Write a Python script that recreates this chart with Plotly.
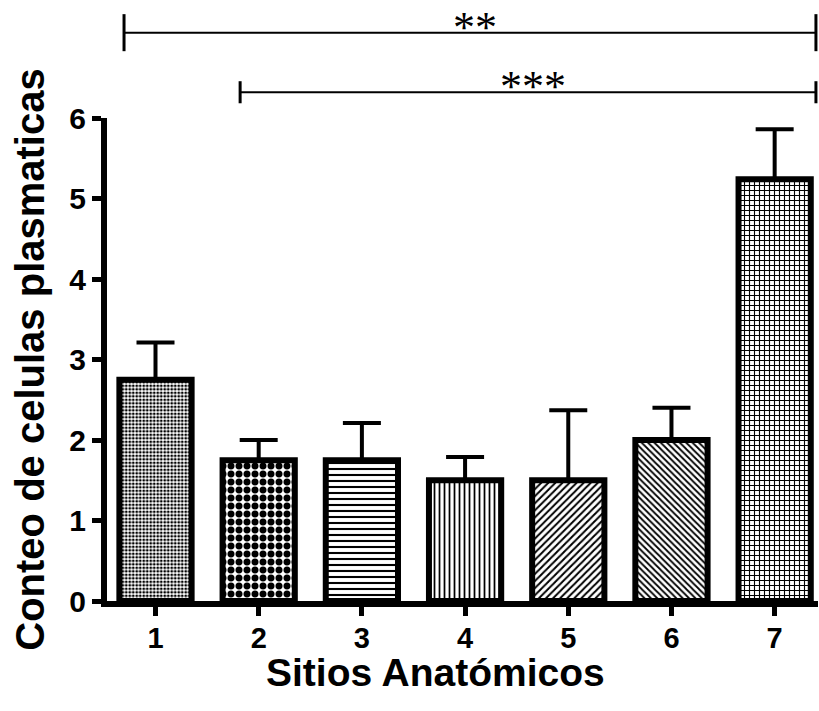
import plotly.graph_objects as go

sites = [1, 2, 3, 4, 5, 6, 7]
tick_labels = ["1", "2", "3", "4", "5", "6", "7"]
means = [2.75, 1.75, 1.75, 1.5, 1.5, 2.0, 5.24]
errors = [0.46, 0.25, 0.46, 0.29, 0.87, 0.40, 0.62]
pattern_shapes = [".", ".", "-", "|", "/", "\\", "+"]
pattern_sizes = [3.5, 8, 6, 5, 5, 4.5, 5]
pattern_solidity = [0.5, 0.6, 0.35, 0.35, 0.4, 0.4, 0.4]

# significance brackets (data units): x start, x end, y level, label
brackets = [
    (0.695, 7.40, 7.06, "**"),
    (1.82, 7.40, 6.32, "***"),
]
bracket_end_half = [0.23, 0.137]

x_title = "<b>Sitios Anatómicos</b>"
y_title = "<b>Conteo de celulas plasmaticas</b>"

YMAX = 6
XMIN, XMAX = 0.53, 7.42

fig = go.Figure()
fig.add_trace(go.Bar(
    x=sites, y=means, width=0.7,
    marker=dict(color="white", line=dict(color="black", width=6),
                pattern=dict(shape=pattern_shapes, size=pattern_sizes,
                             solidity=pattern_solidity, fgcolor="black",
                             bgcolor="white", fillmode="replace")),
    error_y=dict(type="data", array=errors, arrayminus=[0]*7, symmetric=False,
                 color="black", thickness=4, width=19),
    showlegend=False,
))

shapes = []
annotations = []
for (x0, x1, yl, lab), h in zip(brackets, bracket_end_half):
    yp = yl / YMAX
    hp = h / YMAX
    shapes.append(dict(type="line", xref="x", yref="paper", x0=x0, x1=x1, y0=yp, y1=yp,
                       line=dict(color="black", width=2)))
    for xe in (x0, x1):
        shapes.append(dict(type="line", xref="x", yref="paper", x0=xe, x1=xe,
                           y0=yp - hp, y1=yp + hp, line=dict(color="black", width=3)))
    annotations.append(dict(text=lab, xref="x", yref="paper", x=(x0 + x1) / 2 + 0.05,
                            y=yp + 0.011, yanchor="middle", xanchor="center", showarrow=False,
                            font=dict(family="Liberation Sans, Arial", size=1, color="white")
                            if False else
                            dict(family="Liberation Serif", size=44, color="black")))

# x-axis title placed as annotation (slightly left of plot centre, as in the original)
annotations.append(dict(text=x_title, xref="paper", yref="paper", x=0.462, y=-0.149,
                        xanchor="center", yanchor="middle", showarrow=False,
                        font=dict(family="Liberation Sans, Arial", size=39, color="black")))

fig.update_layout(
    width=819, height=711,
    margin=dict(l=107, r=1, t=118, b=110, autoexpand=False),
    plot_bgcolor="white", paper_bgcolor="white",
    font=dict(family="Liberation Sans, Arial", color="black"),
    shapes=shapes, annotations=annotations,
    bargap=0.3,
)
fig.update_xaxes(
    range=[XMIN, XMAX], tickvals=sites, ticktext=tick_labels,
    showline=True, linecolor="black", linewidth=6,
    ticks="outside", ticklen=9, tickwidth=5, tickcolor="black",
    ticklabelstandoff=-3,
    tickfont=dict(size=29, family="Liberation Sans, Arial", weight="bold"),
    showgrid=False, zeroline=False,
)
fig.update_yaxes(
    range=[0, YMAX], tickvals=[0, 1, 2, 3, 4, 5, 6],
    showline=True, linecolor="black", linewidth=6,
    ticks="outside", ticklen=9, tickwidth=5, tickcolor="black",
    tickfont=dict(size=30, family="Liberation Sans, Arial", weight="bold"),
    title=dict(text=y_title, font=dict(size=40), standoff=14),
    showgrid=False, zeroline=False,
)
fig.write_html("out.html", config={"displayModeBar": False},
               post_script="document.body.style.margin='0';")
